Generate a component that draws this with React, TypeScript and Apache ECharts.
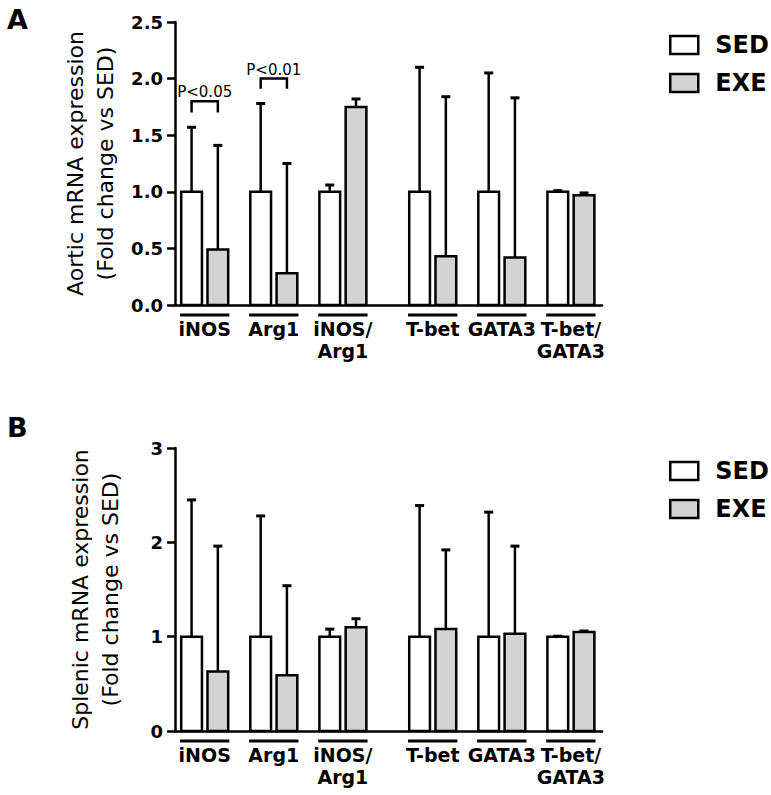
import React, { useEffect, useRef } from "react";
import * as echarts from "echarts";

const categories = ["iNOS", "Arg1", "iNOS/\nArg1", "T-bet", "GATA3", "T-bet/\nGATA3"];

// Panel A: aortic expression (mean and upper error = SEM)
const aSedMean = [1, 1, 1, 1, 1, 1];
const aSedErr = [0.57, 0.78, 0.06, 1.1, 1.05, 0.01];
const aExeMean = [0.49, 0.28, 1.75, 0.43, 0.42, 0.97];
const aExeErr = [0.92, 0.97, 0.07, 1.41, 1.41, 0.02];

// Panel B: splenic expression
const bSedMean = [1, 1, 1, 1, 1, 1];
const bSedErr = [1.45, 1.28, 0.08, 1.39, 1.32, 0.005];
const bExeMean = [0.63, 0.59, 1.1, 1.08, 1.03, 1.05];
const bExeErr = [1.33, 0.95, 0.09, 0.84, 0.93, 0.01];

// Significance brackets (panel A)
const sigGroup = [0, 1];
const sigLabels = ["P<0.05", "P<0.01"];
const sigTop = [1.8, 2.0];
const sigLegEnd = [1.7, 1.91];

const seriesNames = ["SED", "EXE"];

const FONT = "DejaVu Sans";
const SED_FILL = "#ffffff";
const EXE_FILL = "#d3d3d3";
const BAR_W = 0.3;
const OFFSET = 0.19;
const GAP_EXTRA = 0.3;

const groupPos = categories.map((_, i) => i + (i >= 3 ? GAP_EXTRA : 0));

const labelFor = (v: number) => {
  const i = groupPos.findIndex((p) => Math.abs(p - v) < 1e-6);
  return i >= 0 ? categories[i] : "";
};

function barRender(offset: number, fill: string) {
  return (params: any, api: any) => {
    const x = api.value(0);
    const y = api.value(1);
    const e = api.value(2);
    const unit = api.size([1, 0])[0];
    const w = BAR_W * unit;
    const [cx, top] = api.coord([x + offset, y]);
    const base = api.coord([x + offset, 0])[1];
    const errTop = api.coord([x + offset, y + e])[1];
    return {
      type: "group",
      children: [
        { type: "line", shape: { x1: cx, y1: top, x2: cx, y2: errTop }, style: { stroke: "#000", lineWidth: 2.5 } },
        { type: "line", shape: { x1: cx - 4.5, y1: errTop, x2: cx + 4.5, y2: errTop }, style: { stroke: "#000", lineWidth: 3 } },
        { type: "rect", shape: { x: cx - w / 2, y: top, width: w, height: base - top }, style: { fill, stroke: "#000", lineWidth: 2.5 } },
      ],
    };
  };
}

function underlineRender(params: any, api: any) {
  const x = api.value(0);
  const half = OFFSET + BAR_W / 2 + 0.017;
  const l = api.coord([x - half, 0]);
  const r = api.coord([x + half, 0]);
  const y = l[1] + 10;
  return { type: "line", shape: { x1: l[0], y1: y, x2: r[0], y2: y }, style: { stroke: "#000", lineWidth: 3 } };
}

function bracketRender(params: any, api: any) {
  const x = api.value(0);
  const yt = api.coord([x, api.value(1)])[1];
  const yb = api.coord([x, api.value(2)])[1];
  const l = api.coord([x - OFFSET, 0])[0];
  const r = api.coord([x + OFFSET, 0])[0];
  return {
    type: "group",
    children: [
      { type: "polyline", shape: { points: [[l, yb], [l, yt], [r, yt], [r, yb]] }, style: { stroke: "#000", lineWidth: 2.5, fill: null } },
      {
        type: "text",
        x: (l + r) / 2,
        y: yt - 9,
        style: { text: sigLabels[params.dataIndex], fontFamily: FONT, fontSize: 15, fill: "#000", align: "center", verticalAlign: "middle" },
      },
    ],
  };
}

function panelSeries(idx: number, sedMean: number[], sedErr: number[], exeMean: number[], exeErr: number[]) {
  const list: any[] = [
    {
      type: "custom",
      name: seriesNames[0],
      xAxisIndex: idx,
      yAxisIndex: idx,
      renderItem: barRender(-OFFSET, SED_FILL),
      itemStyle: { color: SED_FILL, borderColor: "#000", borderWidth: 2.5 },
      encode: { x: 0, y: 1 },
      data: categories.map((_, i) => [groupPos[i], sedMean[i], sedErr[i]]),
      z: 3,
    },
    {
      type: "custom",
      name: seriesNames[1],
      xAxisIndex: idx,
      yAxisIndex: idx,
      renderItem: barRender(OFFSET, EXE_FILL),
      itemStyle: { color: EXE_FILL, borderColor: "#000", borderWidth: 2.5 },
      encode: { x: 0, y: 1 },
      data: categories.map((_, i) => [groupPos[i], exeMean[i], exeErr[i]]),
      z: 3,
    },
    {
      type: "custom",
      name: "underline" + idx,
      xAxisIndex: idx,
      yAxisIndex: idx,
      renderItem: underlineRender,
      encode: { x: 0, y: 1 },
      data: categories.map((_, i) => [groupPos[i], 0]),
      silent: true,
      clip: false,
    },
  ];
  return list;
}

const legendCommon = {
  orient: "vertical" as const,
  left: 664,
  icon: "rect",
  itemWidth: 28,
  itemHeight: 18,
  itemGap: 14,
  selectedMode: false,
  textStyle: { fontFamily: FONT, fontWeight: "bold" as const, fontSize: 24, color: "#000", padding: [0, 0, 0, 12] },
  data: [
    { name: "SED", itemStyle: { color: SED_FILL, borderColor: "#000", borderWidth: 2.5 } },
    { name: "EXE", itemStyle: { color: EXE_FILL, borderColor: "#000", borderWidth: 2.5 } },
  ],
};

function xAxisFor(idx: number) {
  return {
    type: "value",
    gridIndex: idx,
    min: -0.43,
    max: groupPos[groupPos.length - 1] + 0.45,
    splitLine: { show: false },
    axisTick: { show: false },
    axisLine: { show: true, onZero: false, lineStyle: { color: "#000", width: 2.5 } },
    axisLabel: {
      customValues: groupPos,
      formatter: (v: number) => labelFor(v),
      fontFamily: FONT,
      fontWeight: "bold",
      fontSize: 19,
      lineHeight: 22,
      color: "#000",
      margin: 13,
      showMinLabel: true,
      showMaxLabel: true,
    },
  };
}

function yAxisFor(idx: number, max: number, interval: number, name: string, fmt: (v: number) => string) {
  return {
    type: "value",
    gridIndex: idx,
    min: 0,
    max,
    interval,
    name,
    nameLocation: "middle",
    nameGap: 50,
    nameRotate: 90,
    nameTextStyle: { fontFamily: FONT, fontSize: 22, lineHeight: 30, color: "#000" },
    splitLine: { show: false },
    axisLine: { show: true, onZero: false, lineStyle: { color: "#000", width: 2.5 } },
    axisTick: { show: true, length: 8, lineStyle: { color: "#000", width: 2.5 } },
    axisLabel: { formatter: fmt, fontFamily: FONT, fontWeight: "bold", fontSize: 18, color: "#000", margin: 12 },
  };
}

export default function App() {
  const ref = useRef<HTMLDivElement>(null);
  useEffect(() => {
    if (!ref.current) return;
    const chart = echarts.init(ref.current, null, { renderer: "svg" });
    const option: any = {
      animation: false,
      backgroundColor: "#fff",
      title: [
        { text: "A", left: 2, top: 1, textStyle: { fontFamily: FONT, fontWeight: "bold", fontSize: 27, color: "#000" } },
        { text: "B", left: 2, top: 409, textStyle: { fontFamily: FONT, fontWeight: "bold", fontSize: 27, color: "#000" } },
      ],
      legend: [
        { ...legendCommon, top: 28 },
        { ...legendCommon, top: 454 },
      ],
      grid: [
        { left: 175, right: 169, top: 22, height: 283 },
        { left: 175, right: 169, top: 448, height: 283 },
      ],
      xAxis: [xAxisFor(0), xAxisFor(1)],
      yAxis: [
        yAxisFor(0, 2.5, 0.5, "Aortic mRNA expression\n(Fold change vs SED)", (v) => v.toFixed(1)),
        yAxisFor(1, 3, 1, "Splenic mRNA expression\n(Fold change vs SED)", (v) => String(Math.round(v))),
      ],
      series: [
        ...panelSeries(0, aSedMean, aSedErr, aExeMean, aExeErr),
        ...panelSeries(1, bSedMean, bSedErr, bExeMean, bExeErr),
        {
          type: "custom",
          name: "significance",
          xAxisIndex: 0,
          yAxisIndex: 0,
          renderItem: bracketRender,
          encode: { x: 0, y: 1 },
          data: sigGroup.map((g, i) => [groupPos[g], sigTop[i], sigLegEnd[i]]),
          silent: true,
        },
      ],
    };
    chart.setOption(option);
    return () => chart.dispose();
  }, []);
  return <div ref={ref} style={{ position: "fixed", left: 0, top: 0, width: 771, height: 795 }} />;
}
